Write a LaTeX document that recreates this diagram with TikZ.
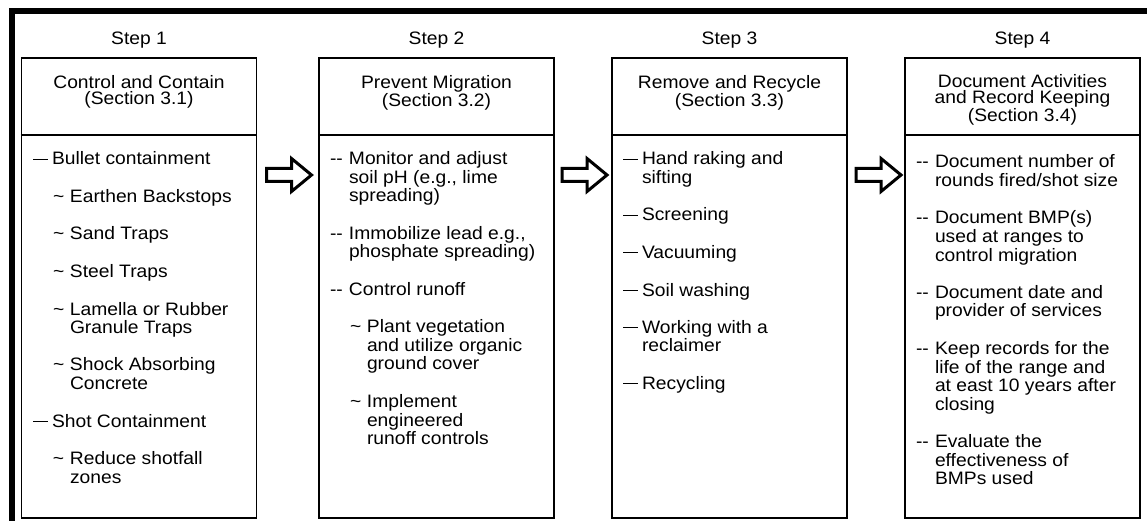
\documentclass[tikz,border=0pt]{standalone}
\usepackage{fontspec}
\setmainfont{Liberation Sans}[FakeStretch=1.07]
\newcommand\longdash{\rule[5.2pt]{14.5pt}{1.1pt}}
\newcommand\myitem[2]{\par\hangindent=19pt\hangafter=1\noindent\makebox[19pt][l]{#1}#2}
\newcommand\mysub[1]{\par\hangindent=37pt\hangafter=1\noindent\hspace*{20pt}\makebox[17pt][l]{\textasciitilde}#1}
\newcommand\colbody[1]{\parbox[t]{240pt}{\raggedright\let\\\newline\fontsize{18}{18.5}\selectfont\parskip=19pt #1}}
\newcommand\colhead[1]{\parbox[t]{230pt}{\centering\fontsize{18}{15.5}\selectfont #1}}
\tikzset{
  colbox/.style={draw=black, line width=1.6pt, minimum width=235pt, minimum height=460pt, inner sep=0pt},
  divider/.style={draw=black, line width=1.6pt},
  frameline/.style={draw=black, line width=6pt},
  txt/.style={inner sep=0pt, outer sep=0pt, font=\fontsize{18}{18.5}\selectfont},
  blockarrow/.style={draw=black, fill=white, line width=3pt, line join=miter},
}
\begin{document}
\begin{tikzpicture}[x=1pt, y=-1pt]
\useasboundingbox (0,0) rectangle (1147,521);
% outer frame (top and left)
\draw[frameline] (11.5,530) -- (11.5,11.5) -- (1160,11.5);
% column boxes
\node[colbox] (b1) at (139,288) {};
\node[colbox] (b2) at (436.5,288) {};
\node[colbox] (b3) at (729.5,288) {};
\node[colbox] (b4) at (1022.5,288) {};
\foreach \b in {b1,b2,b3,b4}{
  \draw[divider] (\b.west |- 0,135) -- (\b.east |- 0,135);
}
% step labels
\node[txt, anchor=base] (s1) at (139,45) {Step 1};
\node[txt, anchor=base] (s2) at (436.5,45) {Step 2};
\node[txt, anchor=base] (s3) at (729.5,45) {Step 3};
\node[txt, anchor=base] (s4) at (1022.5,45) {Step 4};
% headers
\node[txt, anchor=base] (h1) at (139,89) {\colhead{Control and Contain\\(Section 3.1)}};
\node[txt, anchor=base] (h2) at (436.5,89) {\colhead{Prevent Migration\\(Section 3.2)}};
\node[txt, anchor=base] (h3) at (729.5,89) {\colhead{Remove and Recycle\\(Section 3.3)}};
\node[txt, anchor=base] (h4) at (1022.5,88) {\colhead{Document Activities\\and Record Keeping\\(Section 3.4)}};
% bodies
\node[txt, anchor=base west] (t1) at (33,165) {\colbody{%
\myitem{\longdash}{Bullet containment}
\mysub{Earthen Backstops}
\mysub{Sand Traps}
\mysub{Steel Traps}
\mysub{Lamella or Rubber\\Granule Traps}
\mysub{Shock Absorbing\\Concrete}
\myitem{\longdash}{Shot Containment}
\mysub{Reduce shotfall\\zones}}};
\node[txt, anchor=base west] (t2) at (330,165) {\colbody{%
\myitem{-{}-}{Monitor and adjust\\soil pH (e.g., lime\\spreading)}
\myitem{-{}-}{Immobilize lead e.g.,\\phosphate spreading)}
\myitem{-{}-}{Control runoff}
\mysub{Plant vegetation\\and utilize organic\\ground cover}
\mysub{Implement\\engineered\\runoff controls}}};
\node[txt, anchor=base west] (t3) at (623,165) {\colbody{%
\myitem{\longdash}{Hand raking and\\sifting}
\myitem{\longdash}{Screening}
\myitem{\longdash}{Vacuuming}
\myitem{\longdash}{Soil washing}
\myitem{\longdash}{Working with a\\reclaimer}
\myitem{\longdash}{Recycling}}};
\node[txt, anchor=base west] (t4) at (916,168) {\colbody{%
\myitem{-{}-}{Document number of\\rounds fired/shot size}
\myitem{-{}-}{Document BMP(s)\\used at ranges to\\control migration}
\myitem{-{}-}{Document date and\\provider of services}
\myitem{-{}-}{Keep records for the\\life of the range and\\at east 10 years after\\closing}
\myitem{-{}-}{Evaluate the\\effectiveness of\\BMPs used}}};
% block arrows
\coordinate (a1) at (289,175);
\coordinate (a2) at (584.5,175);
\coordinate (a3) at (878.5,175);
\foreach \a in {a1,a2,a3}{
  \draw[blockarrow] (\a) ++(-22.5,-6.5) -- ++(25,0) -- ++(0,-10) -- ++(20,16.5) -- ++(-20,16.5) -- ++(0,-10) -- ++(-25,0) -- cycle;
}
\end{tikzpicture}
\end{document}
